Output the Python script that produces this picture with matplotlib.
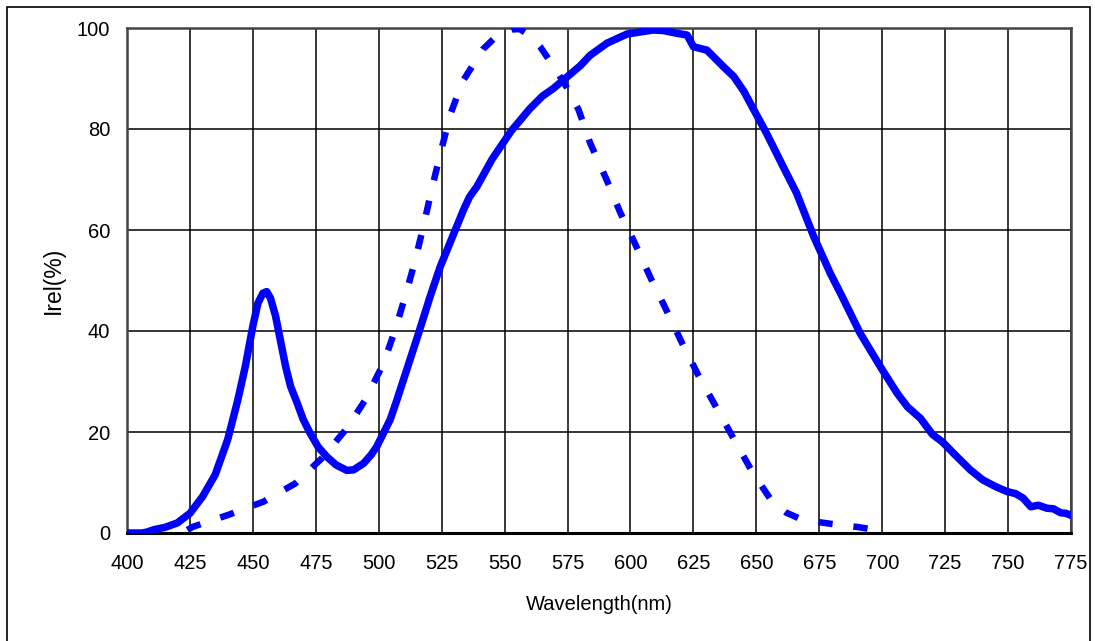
import matplotlib
matplotlib.use("Agg")
import matplotlib.pyplot as plt
from matplotlib.patches import Rectangle

# LED spectrum (solid)
led_wl = [400, 406, 408, 411, 415, 420, 425, 430, 435, 440, 442, 444, 447, 450, 452,
          454, 455.5, 457, 459, 461, 463, 465, 467.4, 470, 472.7, 476, 479.4, 483, 487.3,
          490, 494, 497, 499.2, 501.2, 504.5, 507, 509.8, 515.8, 520.4, 524.4, 530.4,
          533.7, 536, 539, 545, 552.6, 560, 565, 569.3, 574.8, 580, 584, 590.7, 598.6,
          605, 609, 613, 618, 622.5, 625, 630.4, 637, 641, 645, 649, 654, 660.7, 666,
          672.8, 679.4, 683.4, 691.3, 699.3, 705.9, 710, 715.2, 720, 724, 728.3, 735,
          740, 745, 749.6, 753, 756, 759, 762, 765.5, 768, 770.9, 773, 775]
led_val = [0, 0, 0.2, 0.7, 1.1, 2.0, 3.9, 7.2, 11.5, 18.5, 22.4, 26.3, 33, 41, 45.5,
           47.5, 47.8, 46.5, 43, 38, 33, 29, 26, 22.5, 19.8, 17, 15.1, 13.5, 12.4,
           12.5, 13.8, 15.5, 17.1, 19.1, 22.4, 26, 30.3, 39.5, 46.8, 52.7, 60,
           64, 66.5, 68.6, 74, 79.6, 84, 86.5, 88, 90.3, 92.5, 94.6, 97, 98.8,
           99.3, 99.6, 99.5, 99.0, 98.6, 96.3, 95.6, 92.3, 90.4, 87.5, 83.8, 79.2, 72.5, 67.3,
           58.7, 51.4, 47.5, 39.5, 32.9, 27.7, 25, 22.7, 19.5, 18.0, 15.8, 12.5,
           10.5, 9.2, 8.2, 7.8, 6.9, 5.2, 5.5, 4.9, 4.8, 4.0, 3.9, 3.5]

# Eye sensitivity curve (dashed)
eye_wl = [424, 426, 440.3, 454.2, 466.8, 477.4, 487.3, 494.6, 501.9, 506.5, 510.9,
          514.7, 518, 521.3, 524.8, 528.6, 533.3, 541.4, 547, 552.9, 556, 560, 564.1,
          570, 575, 579.4, 584, 590.3, 595.9, 601.9, 608.1, 614.2, 620.7, 627.1, 634.3,
          641.3, 648.5, 656.3, 662, 668.4, 682.7, 690, 697.6, 700]
eye_val = [0.6, 1.2, 3.6, 6.2, 9.8, 14.8, 20.7, 26.3, 33.6, 40.2, 47.5,
           54.4, 61.3, 68.6, 75.8, 83.1, 89.4, 95.8, 98.5, 99.7, 99.8, 98.5, 96.3,
           92, 88, 83.8, 77.2, 70.2, 63.5, 57.2, 50.4, 44.2, 37.4, 31.1, 24.7,
           18.4, 12, 6.2, 4.0, 2.6, 1.6, 1.2, 0.6, 0]

x_ticks = list(range(400, 776, 25))
y_ticks = [0, 20, 40, 60, 80, 100]

plt.rcParams['font.family'] = ['Liberation Sans', 'DejaVu Sans']

fig = plt.figure(figsize=(10.95, 6.41), dpi=100)
ax = fig.add_axes([127/1095, 1-533/641, (1071-127)/1095, (533-28)/641])

ax.plot(eye_wl, eye_val, color='#0000ff', lw=4.7, linestyle=(0, (2.2, 3.2)),
        dash_capstyle='butt', clip_on=True, zorder=3)
ax.plot(led_wl, led_val, color='#0000ff', lw=5.4, solid_capstyle='round',
        solid_joinstyle='round', clip_on=True, zorder=4)

ax.set_xlim(400, 775)
ax.set_ylim(0, 100)
ax.set_xticks(x_ticks)
ax.set_yticks(y_ticks)
ax.grid(True, color='black', lw=1.1)
ax.set_axisbelow(True)
ax.tick_params(axis='both', length=0, labelsize=14.5)
ax.tick_params(axis='y', pad=12)
ax.tick_params(axis='x', pad=15)
for s in ['top', 'left', 'right']:
    ax.spines[s].set_color('#444444')
    ax.spines[s].set_linewidth(1.8)
ax.spines['bottom'].set_color('black')
ax.spines['bottom'].set_linewidth(2.2)

ax.set_xlabel('Wavelength(nm)', fontsize=14.5, labelpad=16)
ax.set_ylabel('Irel(%)', fontsize=16.5, labelpad=9)

fig.patches.append(Rectangle((7/1095, -0.1), (1090-7)/1095, 1.1 - 7/641,
                             transform=fig.transFigure, fill=False,
                             edgecolor='black', lw=1.2))

fig.savefig('out.png', dpi=100)
